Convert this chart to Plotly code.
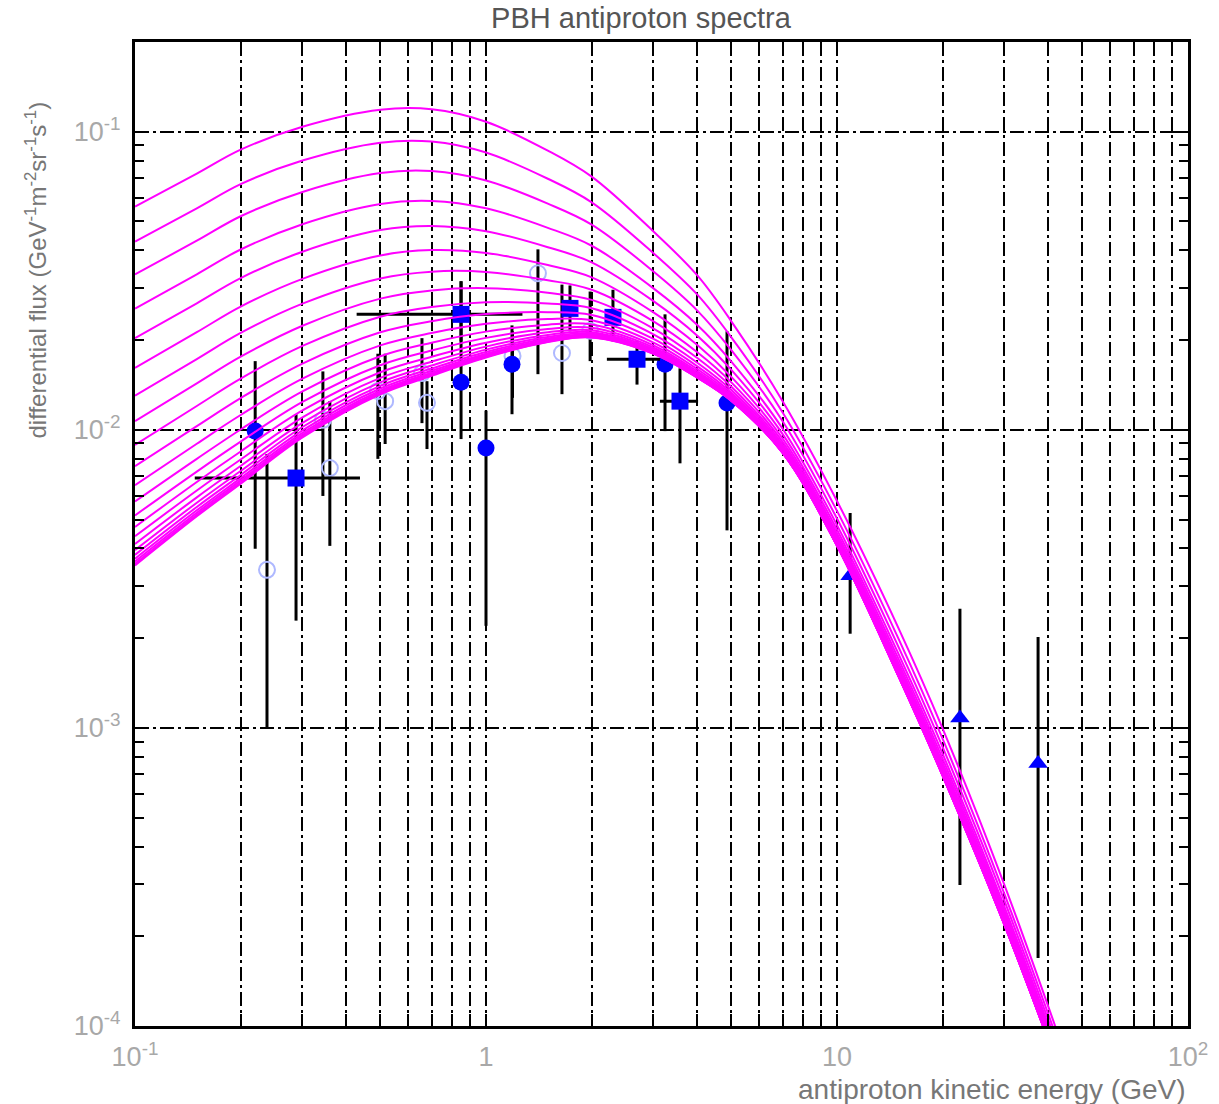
import plotly.graph_objects as go

# ---------------- data ----------------
# model curves: background spectrum + scaled PBH component (flux in GeV^-1 m^-2 sr^-1 s^-1)
energy = [0.1, 0.15, 0.2, 0.3, 0.5, 0.7, 1, 1.5, 2, 3, 4, 5, 7, 10, 15, 20, 30, 45]
bg_flux = [0.003364, 0.004946, 0.006378, 0.009167, 0.01287, 0.0149, 0.017246, 0.01951, 0.020277,
           0.017924, 0.0149, 0.012477, 0.00835, 0.004079, 0.00148, 0.00069, 0.000218, 0.0000615]
pbh_flux = [0.05274, 0.06739, 0.08069, 0.09475, 0.10563, 0.10403, 0.09077, 0.06689, 0.0504,
            0.02834, 0.01805, 0.01064, 0.004127, 0.001694, 0.00067, 0.000305, 0.000079, 0.0000167]
pbh_norm = [1, 0.748, 0.566, 0.42, 0.321, 0.242, 0.183, 0.139, 0.105, 0.0793, 0.0599, 0.0452,
            0.0341, 0.0258, 0.0195, 0.0147, 0.0111, 0.0084, 0.0063, 0.0048, 0.0036, 0.0027]

# filled circles
circ_x = [0.22, 0.849, 1.0, 1.186, 3.236, 4.86]
circ_y = [0.0099, 0.01444, 0.00869, 0.0166, 0.0166, 0.0123]
circ_hi = [0.0170, 0.0315, 0.0116, 0.0224, 0.0244, 0.0214]
circ_lo = [0.00399, 0.00931, 0.0022, 0.01128, 0.0099, 0.0046]

# filled squares
sq_x = [0.2876, 0.849, 1.735, 2.30, 2.693, 3.57]
sq_y = [0.00689, 0.0244, 0.02555, 0.02384, 0.01725, 0.01248]
sq_hi = [0.01128, 0.0315, 0.0305, 0.0295, 0.0198, 0.01608]
sq_lo = [0.00229, 0.0198, 0.0214, 0.0198, 0.01418, 0.00772]
sq_xlo = [0.148, 0.428, 1.735, 2.30, 2.21, 3.13]
sq_xhi = [0.4375, 1.27, 1.735, 2.30, 3.13, 4.02]

# open circles
oc_x = [0.2377, 0.343, 0.359, 0.492, 0.516, 0.657, 0.679, 1.19, 1.406, 1.646, 1.98]
oc_y = [0.00339, 0.0108, 0.00744, 0.0135, 0.01248, 0.0155, 0.01232, 0.0177, 0.0335, 0.0181, 0.0215]
oc_hi = [0.00829, 0.0157, 0.01248, 0.0180, 0.0180, 0.0203, 0.01456, 0.0214, 0.0403, 0.0307, 0.0291]
oc_lo = [0.001, 0.0060, 0.00408, 0.00799, 0.00896, 0.01053, 0.00862, 0.0128, 0.01537, 0.01317, 0.0170]

# triangles
tri_x = [10.9, 22.4, 37.4]
tri_y = [0.00324, 0.00108, 0.00076]
tri_hi = [0.00526, 0.00251, 0.00202]
tri_lo = [0.00207, 0.000297, 0.000169]

x_tickvals = [0.1, 1, 10, 100]
x_ticktext = ["10<sup>-1</sup>", "1", "10", "10<sup>2</sup>"]
y_tickvals = [1e-4, 1e-3, 1e-2, 1e-1]
y_ticktext = ["10<sup>-4</sup>", "10<sup>-3</sup>", "10<sup>-2</sup>", "10<sup>-1</sup>"]

# ---------------- figure ----------------
BLUE = "#0000ff"
DASHDOT = "14px,4px,3px,4px"


def ebar(hi, lo, y):
    return dict(type="data", symmetric=False,
                array=[h - v for h, v in zip(hi, y)],
                arrayminus=[v - l for v, l in zip(y, lo)],
                color="black", thickness=3, width=0)


fig = go.Figure()

fig.add_trace(go.Scatter(x=oc_x, y=oc_y, mode="markers",
                         marker=dict(symbol="circle-open", size=16, color="#aeb8ff",
                                     line=dict(width=2, color="#aeb8ff")),
                         error_y=ebar(oc_hi, oc_lo, oc_y), showlegend=False))
fig.add_trace(go.Scatter(x=circ_x, y=circ_y, mode="markers",
                         marker=dict(symbol="circle", size=17, color=BLUE),
                         error_y=ebar(circ_hi, circ_lo, circ_y), showlegend=False))
fig.add_trace(go.Scatter(x=sq_x, y=sq_y, mode="markers",
                         marker=dict(symbol="square", size=17, color=BLUE),
                         error_y=ebar(sq_hi, sq_lo, sq_y),
                         error_x=dict(type="data", symmetric=False,
                                      array=[h - v for h, v in zip(sq_xhi, sq_x)],
                                      arrayminus=[v - l for v, l in zip(sq_x, sq_xlo)],
                                      color="black", thickness=3, width=0),
                         showlegend=False))
fig.add_trace(go.Scatter(x=tri_x, y=tri_y, mode="markers",
                         marker=dict(symbol="triangle-up", size=17, color=BLUE),
                         error_y=ebar(tri_hi, tri_lo, tri_y), showlegend=False))

for a in pbh_norm:
    fig.add_trace(go.Scatter(x=energy, y=[b + a * p for b, p in zip(bg_flux, pbh_flux)],
                             mode="lines",
                             line=dict(color="#ff00ff", width=2, shape="spline", smoothing=1),
                             showlegend=False, hoverinfo="skip"))

tickfont = dict(family="Liberation Sans, Arial, sans-serif", size=27, color="#a8a8a8")
labfont = dict(family="Liberation Sans, Arial, sans-serif", color="#777777")

fig.update_layout(
    width=1219, height=1104,
    margin=dict(l=135, r=31, t=42, b=78),
    paper_bgcolor="white", plot_bgcolor="white",
    title=dict(text="PBH antiproton spectra", x=(641 - 135) / 1053, xref="paper",
               xanchor="center", y=1 - 18 / 1104, yref="container", yanchor="middle",
               font=dict(family="Liberation Sans, sans-serif", size=29, color="#555555")),
    xaxis=dict(type="log", range=[-1, 2], showline=True, linecolor="black", linewidth=3,
               mirror="ticks", ticks="inside", ticklen=12, tickwidth=2, tickcolor="black",
               tickvals=x_tickvals, ticktext=x_ticktext, tickfont=tickfont,
               ticklabelstandoff=5,
               showgrid=True, gridcolor="black", gridwidth=2, griddash=DASHDOT, zeroline=False,
               minor=dict(tickvals=[m * d for d in (0.1, 1, 10) for m in range(2, 10)],
                          ticks="inside", ticklen=12, tickwidth=2, tickcolor="black",
                          showgrid=True, gridcolor="black", gridwidth=2, griddash=DASHDOT)),
    yaxis=dict(type="log", range=[-4, -0.699], showline=True, linecolor="black", linewidth=3,
               mirror="ticks", ticks="inside", ticklen=14, tickwidth=2, tickcolor="black",
               tickvals=y_tickvals, ticktext=y_ticktext, tickfont=tickfont,
               ticklabelstandoff=6,
               showgrid=True, gridcolor="black", gridwidth=2, griddash=DASHDOT, zeroline=False,
               minor=dict(tickvals=[m * d for d in (1e-4, 1e-3, 1e-2, 1e-1) for m in range(2, 10)],
                          ticks="inside", ticklen=9, tickwidth=2, tickcolor="black",
                          showgrid=False)),
    annotations=[
        dict(text="antiproton kinetic energy (GeV)", xref="paper", yref="paper",
             x=1.0, y=-(1089 - 1026) / 984, xanchor="right", yanchor="middle",
             showarrow=False, font=dict(size=28, **labfont)),
        dict(text="differential flux (GeV<sup>-1</sup>m<sup>-2</sup>sr<sup>-1</sup>s<sup>-1</sup>)",
             xref="paper", yref="paper", x=-(135 - 35) / 1053, y=(1026 - 100) / 984,
             xanchor="center", yanchor="top", textangle=-90, showarrow=False,
             font=dict(size=24, **labfont)),
    ],
)

fig.write_html("out.html")
